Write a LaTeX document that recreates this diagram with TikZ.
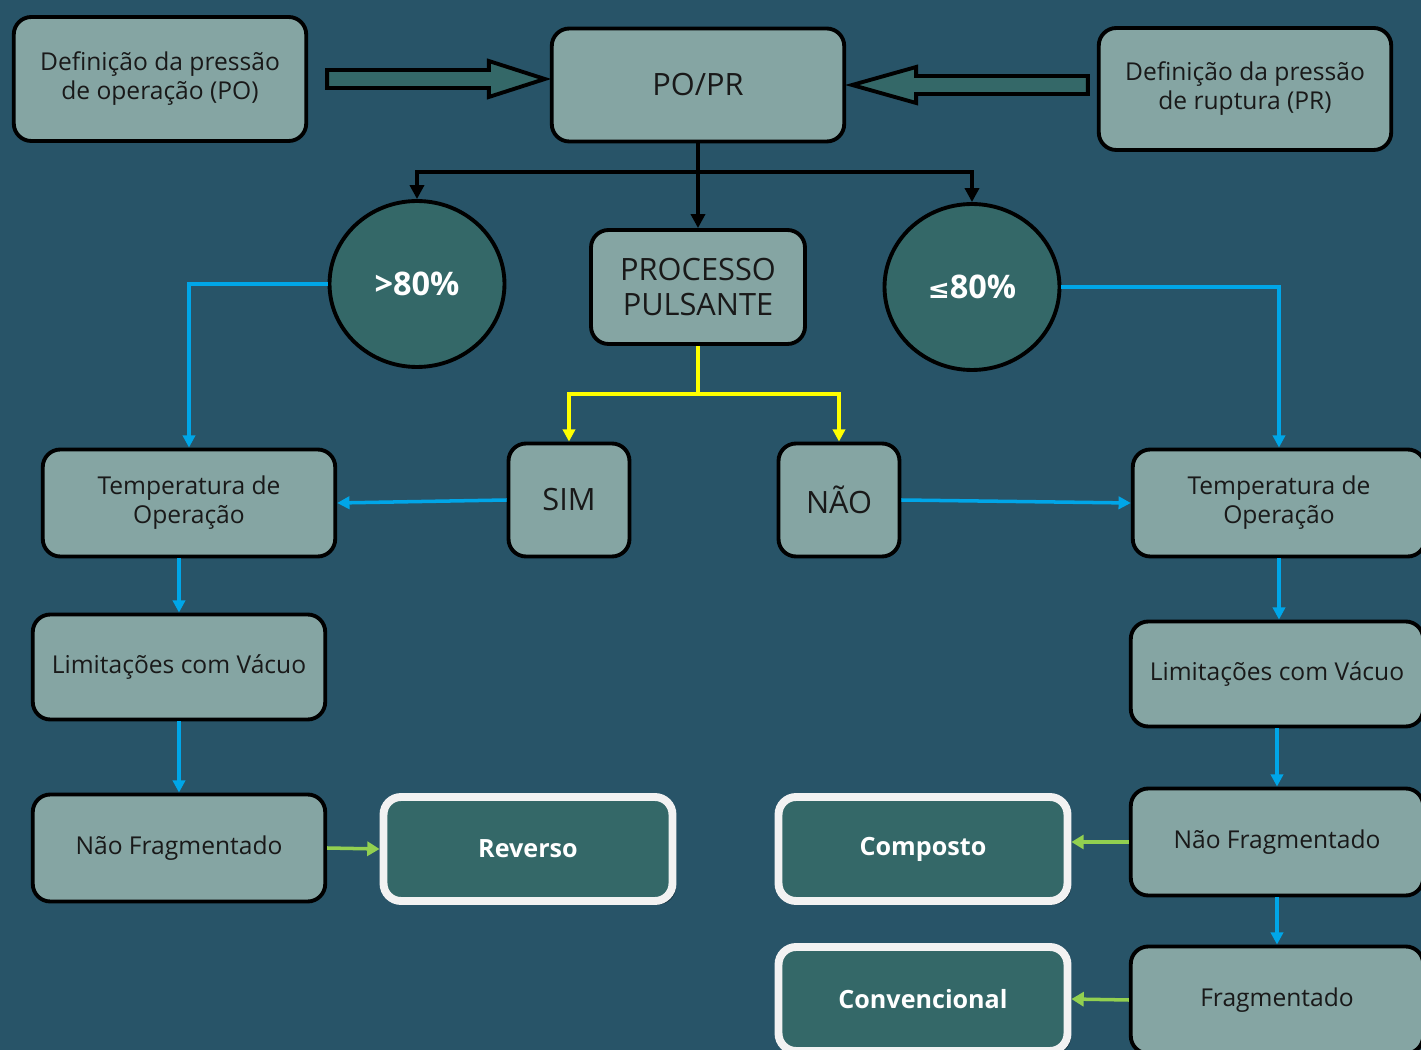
\documentclass[tikz,border=0pt]{standalone}
\usepackage{fontspec}
\setmainfont{Open Sans}
\newfontfamily\symfont{DejaVu Sans}
\usetikzlibrary{arrows.meta,calc,shadows,shapes.geometric}

\definecolor{bgblue}{RGB}{40,84,104}
\definecolor{boxgray}{RGB}{133,165,163}
\definecolor{darkteal}{RGB}{52,104,104}
\definecolor{lineblue}{RGB}{0,166,232}
\definecolor{lineyellow}{RGB}{255,255,0}
\definecolor{linegreen}{RGB}{146,208,80}
\definecolor{rimwhite}{RGB}{242,242,242}

\tikzset{
  box/.style={draw=black, line width=2.2pt, fill=boxgray, rounded corners=0.35cm,
    minimum width=5.85cm, minimum height=2.14cm, align=center, text=black!90,
    font=\fontsize{14}{16.5}\selectfont},
  bigbox/.style={box, font=\fontsize{17.5}{19.5}\selectfont},
  pct/.style={ellipse, draw=black, line width=2.2pt, fill=darkteal, text=white,
    minimum width=3.5cm, minimum height=3.32cm, font=\bfseries\fontsize{18.5}{20}\selectfont},
  result/.style={draw=rimwhite, line width=4.5pt, fill=darkteal, rounded corners=0.35cm,
    minimum width=5.78cm, minimum height=2.08cm, text=white,
    font=\bfseries\fontsize{14.3}{16}\selectfont,
    drop shadow={shadow xshift=2pt, shadow yshift=-2pt, fill=black, opacity=0.35}},
  bigarrow/.style={draw=black, line width=2.2pt, fill=darkteal, line join=miter},
  blk/.style={draw=black, line width=2.2pt, -{Triangle[length=8pt,width=8pt]}},
  bl/.style={draw=lineblue, line width=2pt, -{Triangle[length=7pt,width=7pt]}},
  yl/.style={draw=lineyellow, line width=2.2pt, -{Triangle[length=7pt,width=7pt]}},
  gr/.style={draw=linegreen, line width=2pt, -{Triangle[length=7pt,width=8pt]}},
}

\begin{document}
\begin{tikzpicture}[x=0.02cm, y=-0.02cm]
    \useasboundingbox (0,0) rectangle (1421,1050);
    \clip (0,0) rectangle (1421,1050);
    \fill[bgblue] (0,0) rectangle (1421,1050);

    \node[box, minimum height=2.48cm] (defpo) at (160,79) {Definição da pressão\\de operação (PO)};
    \node[bigbox, minimum height=2.26cm] (popr) at (698,85) {PO/PR};
    \node[box, minimum height=2.44cm] (defpr) at (1245,89) {Definição da pressão\\de ruptura (PR)};

    \node[pct] (gt) at (417,284) {>80\%};
    \node[bigbox, minimum width=4.28cm, minimum height=2.28cm] (pulse) at (698,287) {PROCESSO\\PULSANTE};
    \node[pct] (le) at (972,287) {{\symfont\bfseries\fontsize{15}{20}\selectfont ≤}80\%};

    \node[box] (templ) at (189,503) {Temperatura de\\Operação};
    \node[bigbox, minimum width=2.42cm, minimum height=2.26cm] (sim) at (569,500) {SIM};
    \node[bigbox, minimum width=2.42cm, minimum height=2.26cm] (nao) at (839,500) {NÃO};
    \node[box] (tempr) at (1279,503) {Temperatura de\\Operação};

    \node[box, minimum height=2.1cm] (liml) at (179,667) {Limitações com Vácuo};
    \node[box, minimum height=2.1cm] (limr) at (1277,674) {Limitações com Vácuo};

    \node[box] (nfl) at (179,848) {Não Fragmentado};
    \node[result] (rev) at (528,849) {Reverso};
    \node[result] (comp) at (923,849) {Composto};
    \node[box] (nfr) at (1277,842) {Não Fragmentado};

    \node[result] (conv) at (923,999) {Convencional};
    \node[box] (frag) at (1277,1000) {Fragmentado};

    % setas largas
    \draw[bigarrow] ($(defpo.east)+(19,-9)$) -- ($(popr.west |- defpo.east)+(-61,-9)$)
        -- ($(popr.west |- defpo.east)+(-61,-18)$) -- ($(popr.west |- defpo.east)+(-5,0)$)
        -- ($(popr.west |- defpo.east)+(-61,18)$) -- ($(popr.west |- defpo.east)+(-61,9)$)
        -- ($(defpo.east)+(19,9)$) -- cycle;
    \draw[bigarrow] ($(defpr.west |- popr.east)+(-9,-9)$) -- ($(popr.east)+(70,-9)$)
        -- ($(popr.east)+(70,-18)$) -- ($(popr.east)+(6,0)$) -- ($(popr.east)+(70,18)$)
        -- ($(popr.east)+(70,9)$) -- ($(defpr.west |- popr.east)+(-9,9)$) -- cycle;

    \draw[blk, -] (popr.south) -- ++(0,29) coordinate (jn);
    \draw[blk] (jn) -| (gt.north);
    \draw[blk] (jn) -| (le.north);
    \draw[blk] (jn) -- (pulse.north);

    \draw[bl] (gt.west) -| (templ.north);
    \draw[bl] (le.east) -| (tempr.north);
    \draw[bl] (sim.west) -- (templ.east);
    \draw[bl] (nao.east) -- (tempr.west);

    \draw[yl, -] (pulse.south) -- ++(0,48) coordinate (yj);
    \draw[yl] (yj) -| (sim.north);
    \draw[yl] (yj) -| (nao.north);

    \draw[bl] (templ.south -| liml.north) -- (liml.north);
    \draw[bl] (liml.south) -- (nfl.north);
    \draw[bl] (tempr.south) -- (limr.north -| tempr.south);
    \draw[bl] (limr.south) -- (nfr.north);
    \draw[bl] (nfr.south) -- (frag.north);

    \draw[gr] (nfl.east) -- (rev.west);
    \draw[gr] (nfr.west) -- (comp.east |- nfr.west);
    \draw[gr] (frag.west) -- (conv.east);
\end{tikzpicture}
\end{document}
